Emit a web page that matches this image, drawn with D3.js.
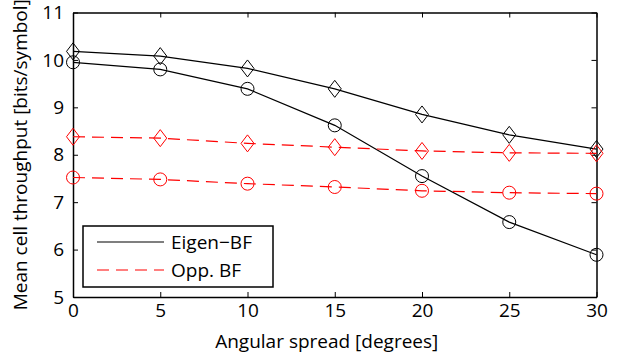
<!DOCTYPE html>
<html>
<head>
<meta charset="utf-8">
<script src="https://cdnjs.cloudflare.com/ajax/libs/d3/7.8.5/d3.min.js"></script>
<style>
  body { margin: 0; background: #fff; }
  text { font-family: "Open Sans", Lato, sans-serif; }
</style>
</head>
<body>
<div id="grafico"></div>
<script>
const angulos = [0, 5, 10, 15, 20, 25, 30];
const eigenCirculos = [9.95, 9.80, 9.39, 8.62, 7.55, 6.58, 5.89];
const eigenDiamantes = [10.18, 10.08, 9.82, 9.39, 8.85, 8.42, 8.12];
const oppDiamantes = [8.38, 8.35, 8.24, 8.16, 8.08, 8.04, 8.03];
const oppCirculos = [7.52, 7.48, 7.39, 7.32, 7.24, 7.20, 7.18];
const ticksX = [0, 5, 10, 15, 20, 25, 30];
const ticksY = [5, 6, 7, 8, 9, 10, 11];

const series = [
  {valores: eigenDiamantes, color: "#000", guion: null, marca: "diamante"},
  {valores: eigenCirculos, color: "#000", guion: null, marca: "circulo"},
  {valores: oppDiamantes, color: "#ff0000", guion: "12,7", marca: "diamante"},
  {valores: oppCirculos, color: "#ff0000", guion: "12,7", marca: "circulo"}
];
const leyenda = [
  {nombre: "Eigen\u2212BF", color: "#000", guion: null},
  {nombre: "Opp. BF", color: "#ff0000", guion: "12,7"}
];

const ancho = 618, alto = 355;
const margen = {top: 12.5, right: 21.5, bottom: 58, left: 73};
const fuente = 19;

const svg = d3.select("#grafico").append("svg")
  .attr("width", ancho)
  .attr("height", alto);

const x = d3.scaleLinear().domain([0, 30]).range([margen.left, ancho - margen.right]);
const y = d3.scaleLinear().domain([5, 11]).range([alto - margen.bottom, margen.top]);

// ejes con ticks hacia dentro
const tk = 5;
svg.append("g")
  .attr("transform", `translate(0,${y(5)})`)
  .call(d3.axisBottom(x).tickValues(ticksX).tickSize(-tk).tickPadding(7).tickSizeOuter(0))
  .call(g => g.selectAll("text").attr("font-size", fuente).attr("fill", "#000"));
svg.append("g")
  .attr("transform", `translate(${x(0)},0)`)
  .call(d3.axisLeft(y).tickValues(ticksY).tickFormat(d3.format("d")).tickSize(-tk).tickPadding(9).tickSizeOuter(0))
  .call(g => g.selectAll("text").attr("font-size", fuente).attr("fill", "#000"));
svg.append("g")
  .attr("transform", `translate(0,${y(11)})`)
  .call(d3.axisTop(x).tickValues(ticksX).tickSize(-tk).tickFormat("").tickSizeOuter(0));
svg.append("g")
  .attr("transform", `translate(${x(30)},0)`)
  .call(d3.axisRight(y).tickValues(ticksY).tickSize(-tk).tickFormat("").tickSizeOuter(0));
svg.selectAll(".domain").attr("stroke", "#000").attr("stroke-width", 1.5);
svg.selectAll(".tick line").attr("stroke", "#000");

const linea = d3.line().x((d, i) => x(angulos[i])).y(d => y(d));

series.forEach(s => {
  svg.append("path")
    .datum(s.valores)
    .attr("d", linea)
    .attr("fill", "none")
    .attr("stroke", s.color)
    .attr("stroke-width", 1.2)
    .attr("stroke-dasharray", s.guion);
  const g = svg.append("g");
  s.valores.forEach((v, i) => {
    const cx = x(angulos[i]), cy = y(v);
    if (s.marca === "circulo") {
      g.append("circle").attr("cx", cx).attr("cy", cy).attr("r", 6.5)
        .attr("fill", "none").attr("stroke", s.color).attr("stroke-width", 1);
    } else {
      g.append("path")
        .attr("d", `M${cx},${cy - 8.5}L${cx + 6.5},${cy}L${cx},${cy + 8.5}L${cx - 6.5},${cy}Z`)
        .attr("fill", "none").attr("stroke", s.color).attr("stroke-width", 1);
    }
  });
});

// leyenda
const caja = svg.append("g").attr("transform", "translate(83,226)");
caja.append("rect").attr("width", 190).attr("height", 61)
  .attr("fill", "#fff").attr("stroke", "#000").attr("stroke-width", 1.5);
leyenda.forEach((l, i) => {
  const yy = 16 + i * 28;
  caja.append("line").attr("x1", 14).attr("x2", 81).attr("y1", yy).attr("y2", yy)
    .attr("stroke", l.color).attr("stroke-width", 1.2).attr("stroke-dasharray", l.guion);
  caja.append("text").attr("x", 88).attr("y", yy + 7)
    .attr("font-size", fuente).text(l.nombre);
});

// etiquetas de ejes
svg.append("text")
  .attr("x", (x(0) + x(30)) / 2 - 8).attr("y", 348)
  .attr("text-anchor", "middle").attr("font-size", fuente)
  .text("Angular spread [degrees]");
svg.append("text")
  .attr("transform", `translate(27,${(y(5) + y(11)) / 2}) rotate(-90)`)
  .attr("text-anchor", "middle").attr("font-size", fuente)
  .text("Mean cell throughput [bits/symbol]");
</script>
</body>
</html>
